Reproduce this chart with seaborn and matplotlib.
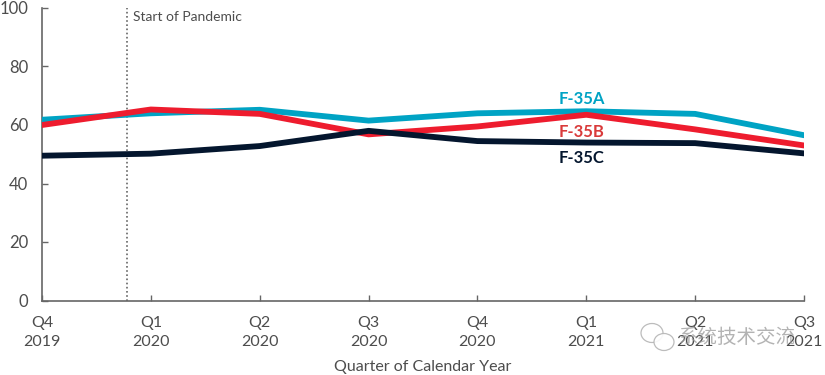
import pandas as pd
import seaborn as sns
import matplotlib.pyplot as plt
from matplotlib.patches import Ellipse

quarters = ['Q4\n2019', 'Q1\n2020', 'Q2\n2020', 'Q3\n2020', 'Q4\n2020', 'Q1\n2021', 'Q2\n2021', 'Q3\n2021']
f35a = [61.8, 64.0, 65.2, 61.5, 64.0, 64.7, 63.8, 56.5]
f35b = [60.0, 65.3, 63.8, 56.8, 59.5, 63.5, 58.5, 53.0]
f35c = [49.5, 50.2, 52.8, 58.0, 54.5, 54.0, 53.8, 50.3]
y_ticks = [0, 20, 40, 60, 80, 100]
pandemic_x = 0.78

colors = {'F-35A': '#00A3C4', 'F-35B': '#EE1C2E', 'F-35C': '#04162E'}
grey = '#4D4D4D'

sns.set_theme(style='white')
plt.rcParams['font.family'] = ['Lato', 'DejaVu Sans']

df = pd.DataFrame({'pos': range(len(quarters)), 'F-35A': f35a, 'F-35B': f35b, 'F-35C': f35c})
df = df.melt(id_vars='pos', var_name='Variant', value_name='Value')

fig = plt.figure(figsize=(8.25, 3.75), dpi=100)
ax = fig.add_axes([42 / 825, 1 - 300.5 / 375, 762 / 825, 292.5 / 375])

ax.axvline(pandemic_x, color='#666666', lw=1.2, ls=(0, (1, 1.5)), zorder=1)
sns.lineplot(data=df, x='pos', y='Value', hue='Variant', palette=colors, linewidth=4.2,
             legend=False, ax=ax, zorder=3)

ax.set_xlim(0, len(quarters) - 1)
ax.set_ylim(0, 100)
ax.set_xticks(range(len(quarters)))
ax.set_xticklabels(quarters, fontsize=11.5, color=grey, linespacing=1.5)
ax.set_yticks(y_ticks)
ax.set_yticklabels(y_ticks, fontsize=12, color=grey)
ax.tick_params(axis='both', direction='in', length=4.5, width=1, color='#666666', bottom=True, left=True)
ax.tick_params(axis='x', pad=11)
ax.tick_params(axis='y', pad=10)
ax.set_xlabel('Quarter of Calendar Year', fontsize=11.5, color=grey, labelpad=8)
ax.set_ylabel('')

sns.despine(ax=ax)
for side in ['left', 'bottom']:
    ax.spines[side].set_color('#666666')
    ax.spines[side].set_linewidth(1.2)
for label in ax.get_xticklabels() + ax.get_yticklabels():
    label.set_clip_on(False)

ax.text(pandemic_x + 0.06, 97, 'Start of Pandemic', fontsize=10, color=grey, ha='left', va='center')
ax.text(4.96, 69, 'F-35A', fontsize=12, fontweight='bold', color='#00A3C4', ha='center', va='center')
ax.text(4.96, 57.6, 'F-35B', fontsize=12, fontweight='bold', color='#D93A3A', ha='center', va='center')
ax.text(4.96, 48.6, 'F-35C', fontsize=12, fontweight='bold', color='#04162E', ha='center', va='center')

# watermark sitting over the last tick labels
fig.text(737 / 825, 1 - 337 / 375, '系统技术交流', fontsize=14, color='#9A9A9A', alpha=0.75,
         family=['Noto Sans CJK SC', 'DejaVu Sans'], ha='center', va='center')
for cx, cy, w, h in [(652, 333, 22, 19), (664, 342, 20, 17)]:
    fig.add_artist(Ellipse((cx / 825, 1 - cy / 375), w / 825, h / 375, transform=fig.transFigure,
                           fc='white', ec='#B5B5B5', lw=0.9, alpha=0.9))

fig.savefig('out.png', dpi=100)
plt.close(fig)
